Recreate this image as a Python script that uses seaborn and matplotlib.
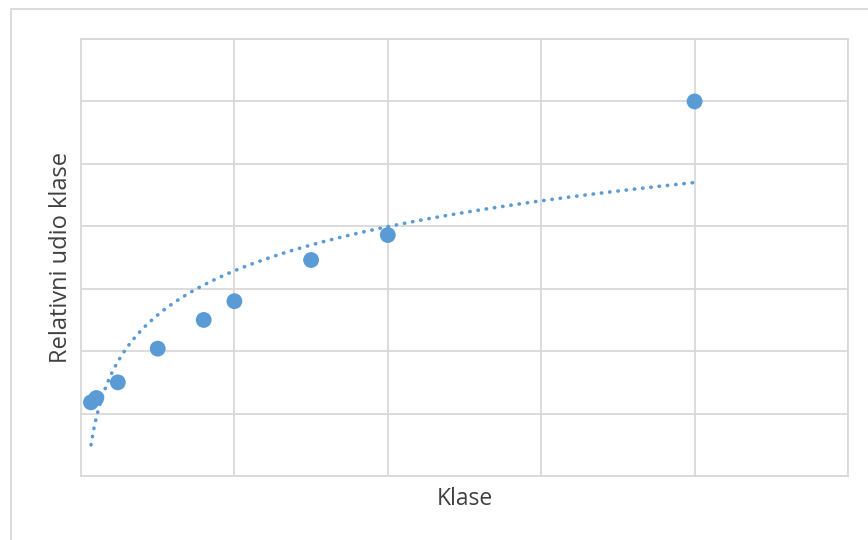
import numpy as np
import pandas as pd
import seaborn as sns
import matplotlib.pyplot as plt
from matplotlib.patches import Rectangle

# data (no tick labels in the original, scale is arbitrary)
klase = [0.65, 1.0, 2.4, 5.0, 8.0, 10.0, 15.0, 20.0, 40.0]
udio = [0.059, 0.0625, 0.075, 0.102, 0.125, 0.140, 0.173, 0.193, 0.300]

df = pd.DataFrame({'Klase': klase, 'Udio': udio})

# logarithmic trendline like the spreadsheet one
a, b = np.polyfit(np.log(df.Klase), df.Udio, 1)
trend_x = np.linspace(min(klase), max(klase), 200)
trend = pd.DataFrame({'Klase': trend_x, 'Udio': a * np.log(trend_x) + b})

sns.set_style('white')
plt.rcParams['font.family'] = ['Open Sans', 'DejaVu Sans']

blue = '#5B9BD5'
grid_c = '#D9D9D9'

fig = plt.figure(figsize=(8.68, 5.4), dpi=100)
ax = fig.add_axes([81/868, 1 - 476/540, (848 - 81)/868, (476 - 39)/540])

sns.lineplot(data=trend, x='Klase', y='Udio', ax=ax, color=blue, linewidth=2.6,
             linestyle=(0, (0.1, 2.2)), dash_capstyle='round', zorder=2)
sns.scatterplot(data=df, x='Klase', y='Udio', ax=ax, color=blue, s=130,
                edgecolor='none', zorder=3)

ax.set_xlim(0, 50)
ax.set_ylim(0, 0.35)
ax.set_xticks(np.arange(0, 51, 10))
ax.set_yticks(np.arange(0, 0.351, 0.05))
ax.tick_params(length=0, labelbottom=False, labelleft=False)
ax.grid(True, color=grid_c, linewidth=1.3)
ax.set_axisbelow(True)
for s in ax.spines.values():
    s.set_color(grid_c)
    s.set_linewidth(1.3)

ax.set_xlabel('Klase', fontsize=16.5, color='#404040', labelpad=8)
ax.set_ylabel('Relativni udio klase', fontsize=17, color='#404040', labelpad=6)

# outer chart border
fig.patches.append(Rectangle((11/868, -0.01), 1.0, 1 - 9/540 + 0.01, transform=fig.transFigure,
                             fill=False, edgecolor=grid_c, linewidth=1.3))

plt.savefig('out.png', dpi=100)
